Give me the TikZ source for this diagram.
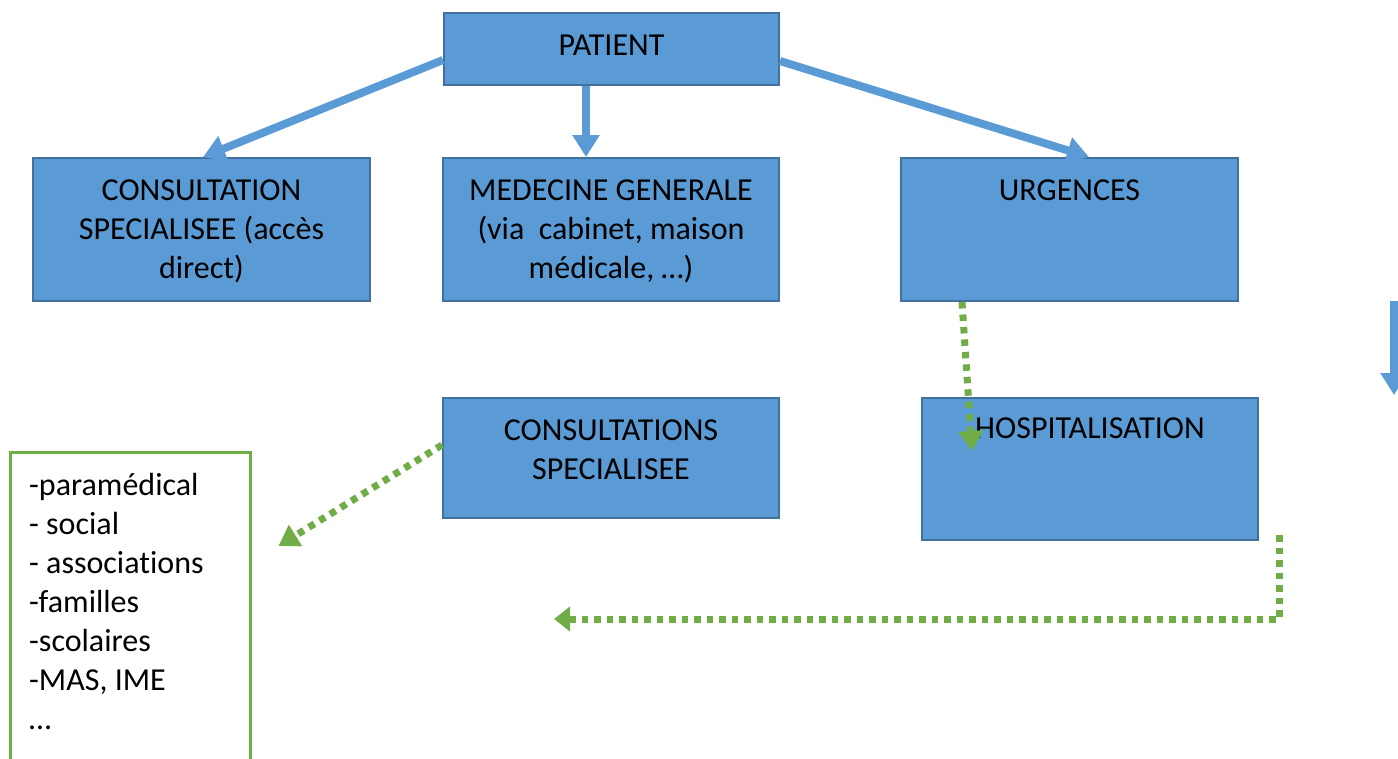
\documentclass[tikz,border=0pt]{standalone}
\usepackage{fontspec}
\setmainfont[Ligatures=NoCommon]{Carlito}
\usetikzlibrary{arrows.meta,calc}
\definecolor{boxfill}{HTML}{5B9BD5}
\definecolor{boxline}{HTML}{41719C}
\definecolor{grn}{HTML}{70AD47}
\tikzset{
  bluebox/.style={draw=boxline, line width=2pt, fill=boxfill, inner sep=0, anchor=north west},
  listbox/.style={draw=grn, line width=2.5pt, fill=white, inner sep=0, anchor=north west},
  txt/.style={font=\fontsize{32}{39}\selectfont, inner sep=0, text=black},
  bluearrow/.style={draw=boxfill, line width=8pt, -{Triangle[width=26pt,length=22pt]}},
  greenarrow/.style={draw=grn, line width=7pt, dash pattern=on 6.5pt off 6pt, -{Triangle[width=24pt,length=20pt]}},
}
\begin{document}
\begin{tikzpicture}[x=1pt,y=-1pt]
\useasboundingbox (0,0) rectangle (1398,758);
\clip (0,0) rectangle (1398,758);
% boxes
\node[bluebox, minimum width=335pt, minimum height=72pt] (p) at (443,12) {};
\node[bluebox, minimum width=337pt, minimum height=143pt] (c1) at (32,157) {};
\node[bluebox, minimum width=336pt, minimum height=143pt] (m) at (442,157) {};
\node[bluebox, minimum width=337pt, minimum height=143pt] (u) at (900,157) {};
\node[bluebox, minimum width=336pt, minimum height=120pt] (cs) at (442,397) {};
\node[bluebox, minimum width=336pt, minimum height=142pt] (h) at (921,397) {};
\node[listbox, minimum width=240pt, minimum height=330pt] (l) at (9,451) {};
% texts
\node[txt, anchor=north] (tp) at ($(p.north)+(0,16)$) {\strut PATIENT};
\node[txt, anchor=north, align=center] (tc1) at ($(c1.north)+(0,16)$) {\strut CONSULTATION\\SPECIALISEE (accès\\direct)};
\node[txt, anchor=north, align=center] (tm) at ($(m.north)+(0,16)$) {\strut MEDECINE GENERALE\\(via\ \ cabinet, maison\\médicale, …)};
\node[txt, anchor=north] (tu) at ($(u.north)+(0,16)$) {\strut URGENCES};
\node[txt, anchor=north, align=center] (tcs) at ($(cs.north)+(0,16)$) {\strut CONSULTATIONS\\SPECIALISEE};
\node[txt, anchor=north] (th) at ($(h.north)+(0,14)$) {\strut HOSPITALISATION};
\node[txt, anchor=north west, align=left] (tl) at ($(l.north west)+(20,16.7)$) {\strut -paramédical\\- social\\- associations\\-familles\\-scolaires\\-MAS, IME\\…};
% blue arrows
\draw[bluearrow] ($(p.north west)+(0,48)$) -- ($(c1.north west)+(171,0)$);
\draw[bluearrow] ($(p.south west)+(143,0)$) -- ($(m.north west)+(144,0)$);
\draw[bluearrow] ($(p.north east)+(0,49)$) -- ($(u.north west)+(189,0)$);
\coordinate (bs) at (1394,301);
\coordinate (be) at (1394,395);
\draw[bluearrow] (bs) -- (be);
% green dotted arrows
\draw[greenarrow] ($(u.south west)+(62,0)$) -- ($(h.north west)+(51,54)$);
\draw[greenarrow] ($(cs.north west)+(0,48)$) -- ($(l.north east)+(27,95)$);
\coordinate (gs) at (1279,535);
\coordinate (gc) at (1279,619);
\coordinate (ge) at (554,619);
\draw[greenarrow, -{Triangle[width=24pt,length=16pt]}] (gs) -- (gc) -- (ge);
\end{tikzpicture}
\end{document}
